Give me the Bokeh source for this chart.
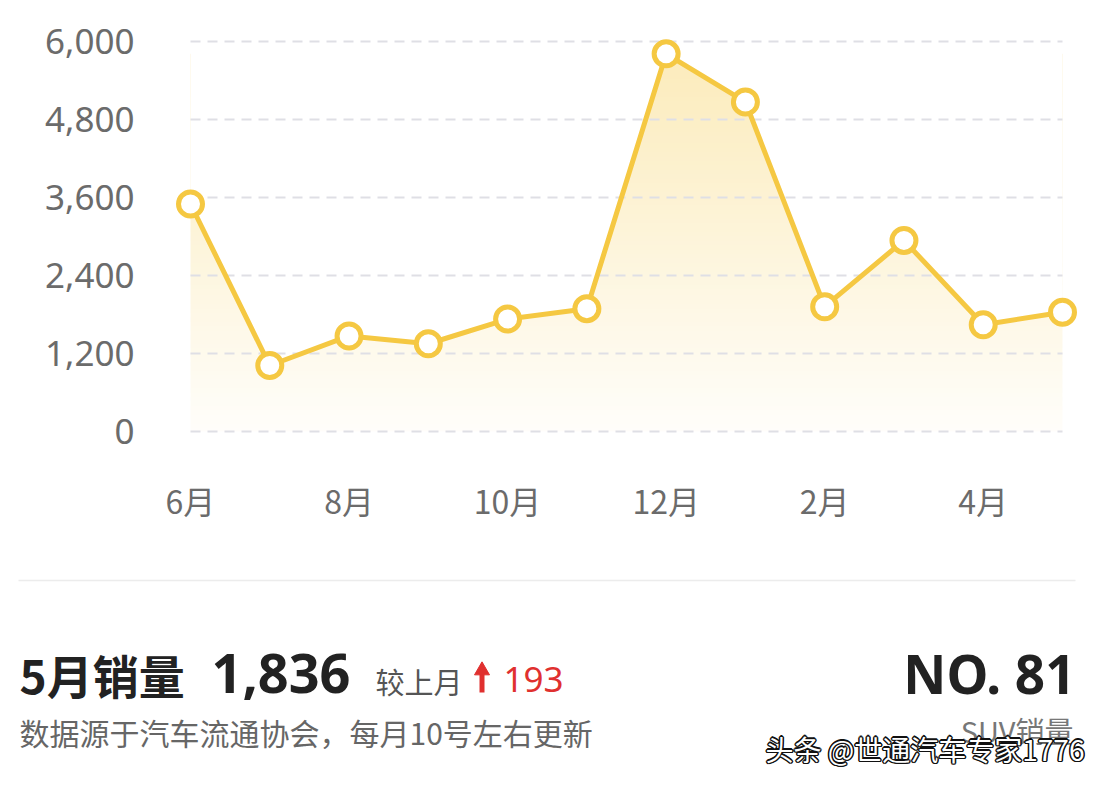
import numpy as np
from bokeh.plotting import figure
from bokeh.models import Range1d, FixedTicker, NumeralTickFormatter
from bokeh.layouts import column
from bokeh.core.properties import value
from bokeh.embed import file_html
from bokeh.resources import INLINE

# ---------------- data ----------------
months = ["6月", "7月", "8月", "9月", "10月", "11月", "12月", "1月", "2月", "3月", "4月", "5月"]
sales = [3500, 1015, 1470, 1350, 1730, 1890, 5810, 5070, 1920, 2940, 1643, 1836]
y_ticks = [0, 1200, 2400, 3600, 4800, 6000]
x_tick_idx = [0, 2, 4, 6, 8, 10]
rank_text = "NO. 81"
rank_label = "SUV销量"
compare_label = "较上月"
source_note = "数据源于汽车流通协会，每月10号左右更新"
watermark = "头条 @世通汽车专家1776"

# ---------------- layout / style ----------------
W = 1105
TOP_H, BOT_H = 565, 215
FL, FR, FT, FB = 150, 1098, 15, 453          # frame edges in canvas pixels
X0_PX, X11_PX = 190, 1062                     # pixel of first / last month
Y0_PX, Y6000_PX = 431, 41                     # pixel of 0 / 6000
PX = (X11_PX - X0_PX) / (len(months) - 1)
PY = (Y0_PX - Y6000_PX) / 6000.0
x_start = -(X0_PX - FL) / PX
x_end = (len(months) - 1) + (FR - X11_PX) / PX
y_start = -(FB - Y0_PX) / PY
y_end = 6000 + (Y6000_PX - FT) / PY

LINE = "#f5c842"
RED = "#e0302f"
CJK = "Noto Sans CJK SC"

xs = list(range(len(months)))

p = figure(width=W, height=TOP_H,
           x_range=Range1d(x_start, x_end), y_range=Range1d(y_start, y_end),
           output_backend="svg", toolbar_location=None,
           min_border_left=FL, min_border_right=W - FR,
           min_border_top=FT, min_border_bottom=TOP_H - FB)
p.frame_align = False
p.outline_line_color = None
p.xgrid.grid_line_color = None
p.ygrid.grid_line_color = None
p.background_fill_color = "white"
p.border_fill_color = "white"

# gradient fill under the line (image + white mask above the line)
N = 256
top = max(sales)
img = np.zeros((N, 4), dtype=np.uint32)
view = img.view(dtype=np.uint8).reshape((N, 4, 4))
alpha = np.linspace(0.03, 0.36, N)
view[:, :, 0] = 245
view[:, :, 1] = 200
view[:, :, 2] = 66
view[:, :, 3] = (alpha[:, None] * 255).astype(np.uint8)
p.image_rgba(image=[img], x=0, y=0, dw=len(months) - 1, dh=top)
p.varea(x=xs, y1=sales, y2=y_end, fill_color="white", fill_alpha=1.0)

# dashed gridlines
p.segment(x0=0, x1=len(months) - 1, y0=y_ticks, y1=y_ticks,
          line_color="#dfdfe5", line_width=2, line_dash="10 7")

# line + markers
p.line(xs, sales, line_color=LINE, line_width=5, line_join="round")
p.scatter(xs, sales, size=24, fill_color="white", line_color=LINE, line_width=5)

# axes
p.yaxis.ticker = FixedTicker(ticks=y_ticks)
p.yaxis.formatter = NumeralTickFormatter(format="0,0")
p.xaxis.ticker = FixedTicker(ticks=x_tick_idx)
p.xaxis.major_label_overrides = {i: months[i] for i in x_tick_idx}
for ax in (p.xaxis[0], p.yaxis[0]):
    ax.axis_line_color = None
    ax.major_tick_line_color = None
    ax.minor_tick_line_color = None
    ax.major_label_text_color = "#6b6b6b"
p.yaxis.major_label_text_font = "Noto Sans"
p.yaxis.major_label_text_font_size = "35px"
p.yaxis.major_label_standoff = 10
p.xaxis.major_label_text_font = CJK
p.xaxis.major_label_text_font_size = "32px"
p.xaxis.major_label_standoff = 17

# ---------------- bottom info panel ----------------
q = figure(width=W, height=BOT_H, x_range=Range1d(0, W), y_range=Range1d(BOT_H, 0),
           output_backend="svg", toolbar_location=None,
           x_axis_location=None, y_axis_location=None, min_border=0)
q.frame_align = False
q.outline_line_color = None
q.xgrid.grid_line_color = None
q.ygrid.grid_line_color = None
q.background_fill_color = "white"
q.border_fill_color = "white"

OFF = TOP_H  # canvas y of the panel's top edge

q.segment(x0=[18], x1=[1075], y0=[580 - OFF], y1=[580 - OFF], line_color="#ececec", line_width=1.5)

def txt(cx, cy, s, size, color, bold=False, align="left", font=CJK, dx=0, dy=0):
    q.text(x=[cx], y=[cy - OFF], text=[s], text_font=value(font), text_font_size=size,
           text_font_style="bold" if bold else "normal", text_color=color,
           text_align=align, text_baseline="middle", x_offset=dx, y_offset=dy)

latest = sales[-1]
delta = sales[-1] - sales[-2]
txt(19, 673, f"{months[-1]}销量", "46px", "#222222", bold=True)
txt(211, 673, f"{latest:,}", "54px", "#222222", bold=True, font="Noto Sans")
txt(375, 680, compare_label, "29px", "#555555")
# up arrow (bold shaft + triangular head)
q.segment(x0=[481.5], x1=[481.5], y0=[673 - OFF], y1=[692 - OFF], line_color=RED, line_width=5)
q.scatter(x=[481.5], y=[670 - OFF], marker="triangle", size=15, fill_color=RED, line_color=RED)
txt(503, 679, f"{delta}", "35px", RED, font="Noto Sans")
txt(19, 731, source_note, "30px", "#666666")
txt(1075, 673, rank_text, "53px", "#222222", bold=True, align="right", font="Noto Sans")
txt(1073, 729, rank_label, "29px", "#777777", align="right")

# watermark: white text with dark outline
for ox, oy in [(-1.5, 0), (1.5, 0), (0, -1.5), (0, 1.5), (-1, -1), (1, 1), (-1, 1), (1, -1)]:
    txt(765, 748, watermark, "28px", "#111111", dx=ox, dy=oy)
txt(765, 748, watermark, "28px", "#ffffff")

layout = column(p, q, spacing=0)
open("out.html", "w").write(file_html(layout, INLINE))
